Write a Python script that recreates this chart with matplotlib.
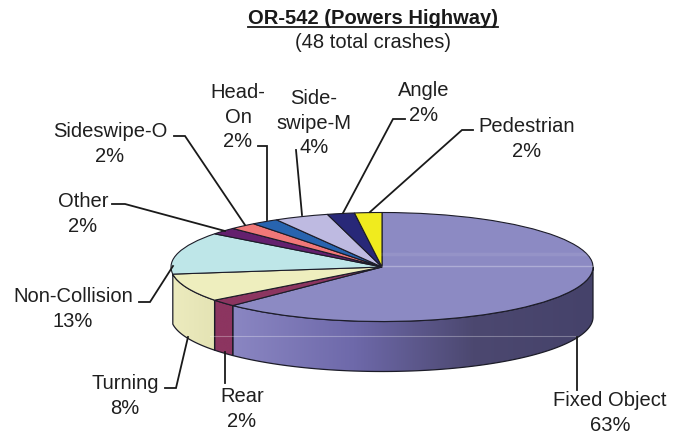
import numpy as np
import matplotlib
matplotlib.use("Agg")
import matplotlib.pyplot as plt
from matplotlib.colors import LinearSegmentedColormap
from matplotlib.patches import Polygon

plt.rcParams['font.family'] = ['Liberation Sans', 'DejaVu Sans']

# crash counts, going clockwise from 12 o'clock
categories = ["Fixed Object", "Rear", "Turning", "Non-Collision", "Other",
              "Sideswipe-O", "Head-\nOn", "Side-\nswipe-M", "Angle", "Pedestrian"]
counts = [30, 1, 4, 6, 1, 1, 1, 2, 1, 1]
percent_labels = ["63%", "2%", "8%", "13%", "2%", "2%", "2%", "4%", "2%", "2%"]
colors = ["#8c8ac3", "#8c3560", "#eeeebe", "#bee6e8", "#64206e",
          "#f07878", "#2864af", "#bebae1", "#282878", "#f0eb1e"]
side_colors = {
    0: ["#8a86c2", "#6e69aa", "#4c4870", "#45426a"],
    1: ["#8c3560", "#8c3560"],
    2: ["#ecebbe", "#e4e3b4"],
}

# label centres and leader lines, in pixels of the picture
label_pos = [(610, 413), (242, 409), (125, 396), (73, 309), (83, 214),
             (110, 144), (238, 117), (314, 123), (424, 103), (527, 139)]
leaders = [
    [(577, 390), (577, 337)],
    [(225, 383), (225, 352)],
    [(165, 388), (176, 388), (188, 337)],
    [(139, 302), (150, 302), (173, 266)],
    [(112, 204), (125, 204), (225, 231)],
    [(174, 136), (185, 136), (245, 225)],
    [(258, 146), (267, 146), (267, 220)],
    [(296, 150), (302, 215)],
    [(405, 119), (393, 119), (343, 213)],
    [(473, 130), (462, 130), (370, 212)],
]

W, H = 684, 436
cx, cy, rx, ry, depth = 382, 267, 211, 54.5, 50
FS = 14.5

fig = plt.figure(figsize=(W / 100, H / 100), dpi=100)
ax = fig.add_axes([0, 0, 1, 1])
xlim = (-cx / rx, (W - cx) / rx)
ylim = ((cy - H) / ry, cy / ry)
d = depth / ry

# side wall, only the slices facing the viewer
fracs = np.cumsum([0] + counts) / sum(counts)
for i, col in side_colors.items():
    a0 = 90 - 360 * fracs[i]
    a1 = 90 - 360 * fracs[i + 1]
    t = np.radians(np.linspace(max(a0, -180) if a0 < 0 else 0, a1, 120))
    x, y = np.cos(t), np.sin(t)
    pts = np.r_[np.c_[x, y], np.c_[x[::-1], y[::-1] - d]]
    cmap = LinearSegmentedColormap.from_list("side", col)
    im = ax.imshow(np.linspace(0, 1, 256)[None, :], cmap=cmap, aspect='auto',
                   extent=(x.min(), x.max(), y.min() - d, y.max()), zorder=1)
    wall = Polygon(pts, closed=True, fc='none', ec='#1c1c28', lw=0.9, zorder=2)
    ax.add_patch(wall)
    im.set_clip_path(wall)

ax.pie(counts, colors=colors, startangle=90, counterclock=False, radius=1,
       frame=True, wedgeprops=dict(edgecolor='#1c1c28', linewidth=0.8, zorder=3))
ax.set_aspect('auto')
ax.set_xlim(xlim)
ax.set_ylim(ylim)
ax.axis('off')

# overlay in picture pixels for the texts and leaders
lay = fig.add_axes([0, 0, 1, 1])
lay.set_xlim(0, W)
lay.set_ylim(H, 0)
lay.axis('off')
lay.patch.set_alpha(0)

# faint scan streaks across the pie
lay.plot([382, 592], [266, 266], color='white', lw=1.0, alpha=0.3)
lay.plot([382, 590], [254, 254], color='white', lw=2.5, alpha=0.08)
lay.plot([210, 576], [336, 336], color='white', lw=0.8, alpha=0.3)

for line in leaders:
    xs, ys = zip(*line)
    lay.plot(xs, ys, color='#1a1a1a', lw=1.3, solid_joinstyle='miter')

for name, pct, (x, y) in zip(categories, percent_labels, label_pos):
    lay.text(x, y, f"{name}\n{pct}", ha='center', va='center', fontsize=FS,
             color='#1f1f1f', linespacing=1.36)

lay.text(373, 19, "OR-542 (Powers Highway)", ha='center', va='center',
         fontsize=FS, fontweight='bold', color='#1a1a1a')
lay.plot([248, 498], [27, 27], color='#1a1a1a', lw=1.3)
lay.text(373, 42, "(48 total crashes)", ha='center', va='center',
         fontsize=FS, color='#1f1f1f')

fig.savefig("out.png", dpi=100, facecolor='white')
